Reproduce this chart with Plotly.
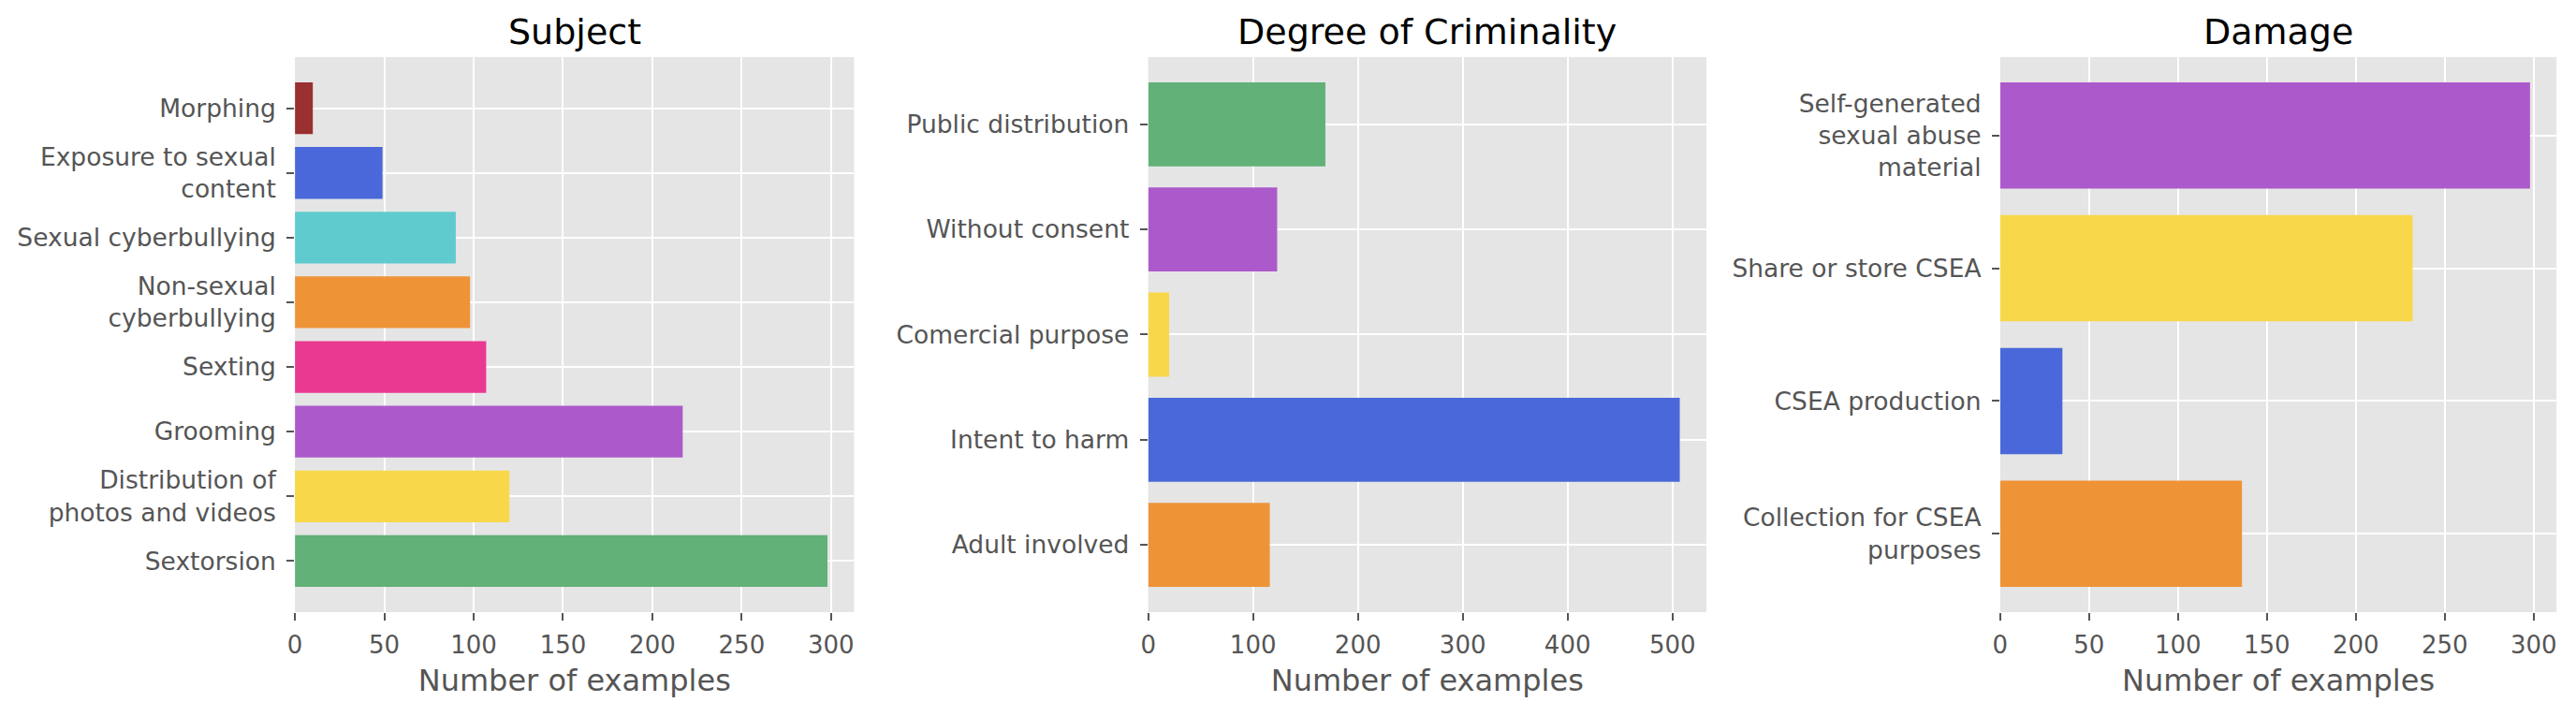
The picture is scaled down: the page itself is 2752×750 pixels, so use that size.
import plotly.graph_objects as go

# --- data, bottom-to-top order as drawn ---
subject_labels = ["Sextorsion", "Distribution of<br>photos and videos", "Grooming", "Sexting",
                  "Non-sexual<br>cyberbullying", "Sexual cyberbullying",
                  "Exposure to sexual<br>content", "Morphing"]
subject_counts = [298, 120, 217, 107, 98, 90, 49, 10]

crime_labels = ["Adult involved", "Intent to harm", "Comercial purpose",
                "Without consent", "Public distribution"]
crime_counts = [116, 507, 20, 123, 169]

damage_labels = ["Collection for CSEA<br>purposes", "CSEA production",
                 "Share or store CSEA", "Self-generated<br>sexual abuse<br>material"]
damage_counts = [136, 35, 232, 298]

GREEN, YELLOW, PURPLE, PINK = "#61B178", "#F8D84A", "#AC5ACB", "#EA3990"
ORANGE, CYAN, BLUE, BROWN = "#EF9337", "#5FCBCE", "#4A68D9", "#9A3030"

subject_colors = [GREEN, YELLOW, PURPLE, PINK, ORANGE, CYAN, BLUE, BROWN]
crime_colors = [ORANGE, BLUE, YELLOW, PURPLE, GREEN]
damage_colors = [ORANGE, BLUE, YELLOW, PURPLE]

panels = [
    ("Subject", subject_labels, subject_counts, subject_colors, 50, [0.1090, 0.3267]),
    ("Degree of Criminality", crime_labels, crime_counts, crime_colors, 100, [0.4412, 0.6585]),
    ("Damage", damage_labels, damage_counts, damage_colors, 50, [0.7729, 0.9895]),
]

FONT = "DejaVu Sans"
GREY = "#555555"
Y_DOMAIN = [0.1387, 0.9293]

fig = go.Figure()
annotations = []

for i, (title, labels, counts, colors, dtick, xdom) in enumerate(panels, start=1):
    xa = "x" if i == 1 else f"x{i}"
    ya = "y" if i == 1 else f"y{i}"
    fig.add_trace(go.Bar(
        x=counts, y=list(range(len(labels))), orientation="h",
        marker=dict(color=colors, line=dict(width=0)),
        width=0.8, xaxis=xa, yaxis=ya, showlegend=False,
    ))
    n = len(labels)
    pad = 0.05 * (n - 1 + 0.8)
    suffix = "" if i == 1 else str(i)
    fig.update_layout(**{
        f"xaxis{suffix}": dict(
            domain=xdom, anchor=ya, range=[0, max(counts) * 1.05],
            dtick=dtick, tick0=0, showgrid=True, gridcolor="white", gridwidth=2,
            zeroline=False, showline=False, ticks="outside", ticklen=8, tickwidth=2,
            ticklabelstandoff=4,
            tickcolor=GREY, tickfont=dict(family=FONT, size=26, color=GREY),
            title=dict(text="Number of examples", standoff=12,
                       font=dict(family=FONT, size=32, color=GREY)),
        ),
        f"yaxis{suffix}": dict(
            domain=Y_DOMAIN, anchor=xa, range=[-0.4 - pad, n - 1 + 0.4 + pad],
            tickmode="array", tickvals=list(range(n)), ticktext=labels,
            showgrid=True, gridcolor="white", gridwidth=2,
            zeroline=False, showline=False, ticks="outside", ticklen=8, tickwidth=2,
            ticklabelstandoff=6,
            tickcolor=GREY, tickfont=dict(family=FONT, size=26.5, color=GREY),
        ),
    })
    annotations.append(dict(
        text=title, x=(xdom[0] + xdom[1]) / 2, y=1 - 2 / 750,
        xref="paper", yref="paper", xanchor="center", yanchor="top",
        showarrow=False, font=dict(family=FONT, size=38, color="black"),
    ))

fig.update_layout(
    width=2752, height=750,
    margin=dict(l=0, r=0, t=0, b=0),
    paper_bgcolor="white", plot_bgcolor="#E5E5E5",
    bargap=0.2, annotations=annotations,
)

fig.write_html("out.html")
